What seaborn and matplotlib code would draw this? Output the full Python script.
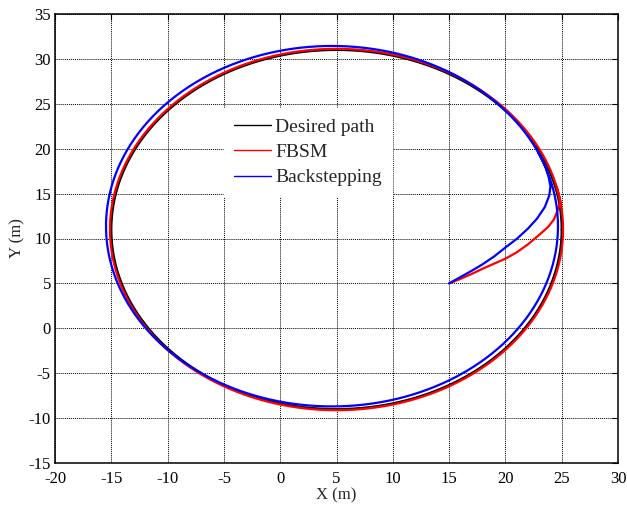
import numpy as np
import pandas as pd
import matplotlib
matplotlib.use("Agg")
import matplotlib.pyplot as plt
import seaborn as sns

# Reference circle (desired path): centre and radius in metres
desired_center = (5.0, 11.0)
desired_radius = 20.0

# Tracked circles each controller settles onto
fbsm_center = (5.0, 11.0)
fbsm_radius = 20.12
back_center = (4.6, 11.37)
back_radius = 20.07

# Transient from the start point (15, 5) until each controller joins its circle
fbsm_x = [15.0, 16.0, 17.0, 18.0, 19.0, 20.0, 21.0, 22.0, 23.0, 23.8, 24.3, 24.6, 24.75]
fbsm_y = [5.0, 5.5, 6.05, 6.65, 7.2, 7.75, 8.45, 9.35, 10.4, 11.3, 12.1, 13.0, 13.7]
back_x = [15.0, 16.0, 17.0, 18.0, 19.0, 20.0, 21.0, 22.0, 22.8, 23.5, 23.9, 24.0, 23.85]
back_y = [5.0, 5.7, 6.4, 7.15, 8.0, 9.0, 9.95, 11.1, 12.2, 13.5, 14.8, 15.8, 16.8]

# Angle (deg) where each transient merges into its circle, and orbit length
fbsm_join_deg = 8.6
back_join_deg = 19.0
orbit_deg = 365.0

x_ticks = list(range(-20, 31, 5))
y_ticks = list(range(-15, 36, 5))
labels = ["Desired path", "FBSM", "Backstepping"]
colors = ["black", "red", "blue"]


def arc(center, radius, start_deg, sweep_deg, n=721):
    t = np.deg2rad(np.linspace(start_deg, start_deg + sweep_deg, n))
    return center[0] + radius * np.cos(t), center[1] + radius * np.sin(t)


dx, dy = arc(desired_center, desired_radius, 0.0, 360.0)
fx, fy = arc(fbsm_center, fbsm_radius, fbsm_join_deg, orbit_deg)
bx, by = arc(back_center, back_radius, back_join_deg, orbit_deg)

frames = [
    pd.DataFrame({"x": dx, "y": dy, "path": labels[0]}),
    pd.DataFrame({"x": np.r_[fbsm_x, fx], "y": np.r_[fbsm_y, fy], "path": labels[1]}),
    pd.DataFrame({"x": np.r_[back_x, bx], "y": np.r_[back_y, by], "path": labels[2]}),
]

sns.set_style("white")
plt.rcParams["font.family"] = ["Liberation Serif", "DejaVu Serif"]
plt.rcParams["axes.unicode_minus"] = False

fig = plt.figure(figsize=(6.27, 5.07), dpi=100)
ax = fig.add_axes([55 / 627, 1 - 463 / 507, 563 / 627, 449 / 507])

for df, lab, col in zip(frames, labels, colors):
    sns.lineplot(data=df, x="x", y="y", sort=False, estimator=None,
                 color=col, linewidth=1.6, label=lab, ax=ax)

ax.set_xlim(-20, 30)
ax.set_ylim(-15, 35)
ax.set_xticks(x_ticks)
ax.set_yticks(y_ticks)
ax.grid(True, color="black", linestyle=(0, (1, 1)), linewidth=0.7)
ax.set_axisbelow(True)
for s in ax.spines.values():
    s.set_visible(True)
    s.set_color("black")
    s.set_linewidth(1.1)
ax.tick_params(direction="in", length=4, width=0.8, top=True, right=True,
               labelsize=12, colors="black")
ax.tick_params(axis="x", pad=6)
ax.tick_params(axis="y", pad=3)
ax.set_xlabel("X (m)", fontsize=12, labelpad=0)
ax.set_ylabel("Y (m)", fontsize=12, labelpad=2)

leg = ax.legend(loc="upper left", bbox_to_anchor=(0.300, 0.790),
                borderaxespad=0, frameon=True, fancybox=False,
                edgecolor="white", facecolor="white", framealpha=1,
                fontsize=14, handlelength=1.9, handletextpad=0.25,
                labelspacing=0.4, borderpad=0.5)
for line in leg.get_lines():
    line.set_linewidth(1.0)

fig.savefig("out.png", dpi=100)
